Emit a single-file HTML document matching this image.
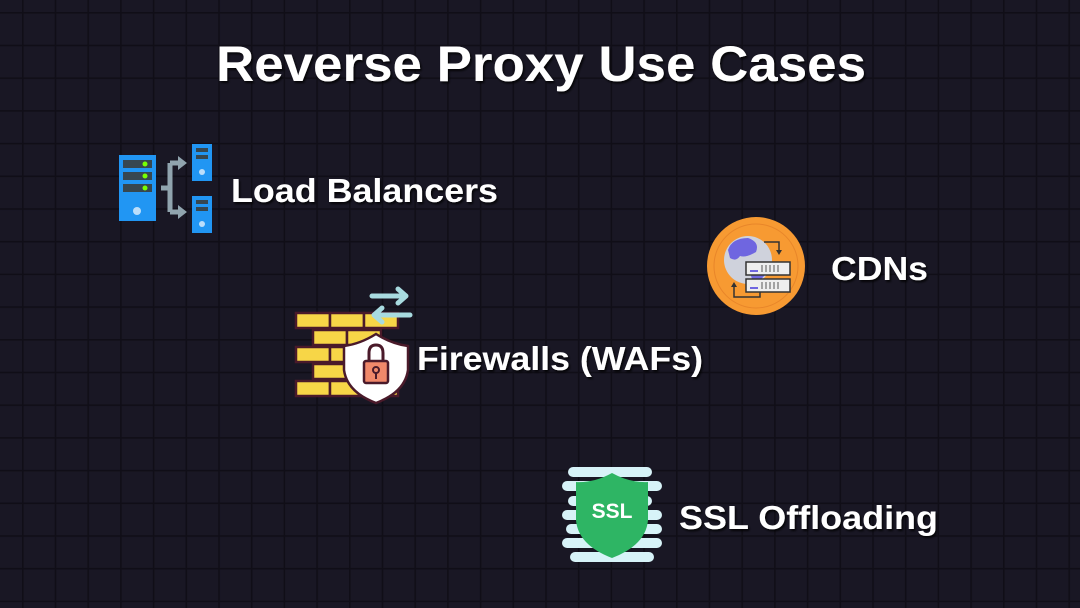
<!DOCTYPE html>
<html><head><meta charset="utf-8"><style>
html,body{margin:0;padding:0;background:#181622;}
svg{display:block}
text{font-family:"Liberation Sans",sans-serif;font-weight:bold;fill:#fff}
</style></head><body>
<svg width="1080" height="608" viewBox="0 0 1080 608" xmlns="http://www.w3.org/2000/svg">
<defs>
<pattern id="g" x="22" y="12" width="32.7" height="32.7" patternUnits="userSpaceOnUse">
<rect width="32.7" height="32.7" fill="#191724"/>
<rect width="1.6" height="32.7" fill="#100e17"/>
<rect width="32.7" height="1.6" fill="#100e17"/>
</pattern>
<filter id="sh"><feDropShadow dx="1.5" dy="2" stdDeviation="1" flood-color="#000" flood-opacity="0.8"/></filter>
</defs>
<rect width="1080" height="608" fill="url(#g)"/>

<g filter="url(#sh)">
<text x="216" y="81" font-size="50" textLength="650" lengthAdjust="spacingAndGlyphs">Reverse Proxy Use Cases</text>
<text x="231" y="202" font-size="33" textLength="267" lengthAdjust="spacingAndGlyphs">Load Balancers</text>
<text x="831" y="280" font-size="33" textLength="97" lengthAdjust="spacingAndGlyphs">CDNs</text>
<text x="417" y="370" font-size="33" textLength="286" lengthAdjust="spacingAndGlyphs">Firewalls (WAFs)</text>
<text x="679" y="529" font-size="33" textLength="259" lengthAdjust="spacingAndGlyphs">SSL Offloading</text>
</g>

<!-- Load balancer icon -->
<g>
<rect x="119" y="155" width="37" height="66" fill="#2196f3"/>
<rect x="123" y="160" width="29" height="8" fill="#37474f"/>
<rect x="123" y="172" width="29" height="8" fill="#37474f"/>
<rect x="123" y="184" width="29" height="8" fill="#37474f"/>
<circle cx="145" cy="164" r="2.5" fill="#76ff03"/>
<circle cx="145" cy="176" r="2.5" fill="#76ff03"/>
<circle cx="145" cy="188" r="2.5" fill="#76ff03"/>
<circle cx="137" cy="211" r="4" fill="#bbdefb"/>
<path d="M161 188 H170 M170 163 V212 M170 163 H180 M170 212 H180" stroke="#90a4ae" stroke-width="5" fill="none"/>
<path d="M178 156 L187 163 L178 170 Z M178 205 L187 212 L178 219 Z" fill="#90a4ae"/>
<rect x="192" y="144" width="20" height="37" fill="#2196f3"/>
<rect x="196" y="148" width="12" height="4" fill="#37474f"/>
<rect x="196" y="155" width="12" height="4" fill="#37474f"/>
<circle cx="202" cy="172" r="3" fill="#bbdefb"/>
<rect x="192" y="196" width="20" height="37" fill="#2196f3"/>
<rect x="196" y="200" width="12" height="4" fill="#37474f"/>
<rect x="196" y="207" width="12" height="4" fill="#37474f"/>
<circle cx="202" cy="224" r="3" fill="#bbdefb"/>
</g>

<!-- CDN icon -->
<g>
<circle cx="756" cy="266" r="49" fill="#f79a32"/>
<circle cx="756" cy="266" r="42" fill="none" stroke="#e8862a" stroke-width="1"/>
<circle cx="748" cy="260" r="24" fill="#cfd2dc"/>
<path d="M728 250 Q732 238 748 238 Q760 242 756 252 Q746 258 740 256 Q736 262 730 258 Z" fill="#6f66e0"/>
<path d="M750 262 Q762 260 768 268 Q764 280 754 283 Q748 272 750 262 Z" fill="#6f66e0"/>
<rect x="746" y="262" width="44" height="13" fill="#eee" stroke="#333" stroke-width="1.5"/>
<rect x="746" y="279" width="44" height="13" fill="#eee" stroke="#333" stroke-width="1.5"/>
<path d="M762 265 v7 M766 265 v7 M770 265 v7 M774 265 v7 M778 265 v7 M762 282 v7 M766 282 v7 M770 282 v7 M774 282 v7 M778 282 v7" stroke="#555" stroke-width="1"/>
<rect x="750" y="270" width="8" height="2" fill="#6f66e0"/>
<rect x="750" y="287" width="8" height="2" fill="#6f66e0"/>
<path d="M764 242 H779 V252 M734 285 V297 H760 V292" stroke="#333" stroke-width="1.5" fill="none"/>
<path d="M776 250 L779 255 L782 250 Z M731 287 L734 282 L737 287 Z" fill="#333"/>
</g>

<!-- Firewall icon -->
<g stroke="#4a1a2a" stroke-width="2.5" fill="#f7d647">
<rect x="296" y="313" width="34" height="15"/>
<rect x="330" y="313" width="34" height="15"/>
<rect x="364" y="313" width="34" height="15"/>
<rect x="313" y="330" width="34" height="15"/>
<rect x="347" y="330" width="34" height="15"/>
<rect x="296" y="347" width="34" height="15"/>
<rect x="330" y="347" width="34" height="15"/>
<rect x="313" y="364" width="34" height="15"/>
<rect x="347" y="364" width="34" height="15"/>
<rect x="296" y="381" width="34" height="15"/>
<rect x="330" y="381" width="34" height="15"/>
<rect x="364" y="381" width="34" height="15"/>
</g>
<path d="M376 334 Q392 344 408 346 V370 Q405 392 376 403 Q347 392 344 370 V346 Q360 344 376 334 Z" fill="#fff" stroke="#4a1a2a" stroke-width="2.5"/>
<path d="M369 361 V353 Q369 345 376 345 Q383 345 383 353 V361" fill="none" stroke="#4a1a2a" stroke-width="3"/>
<rect x="364" y="361" width="24" height="22" rx="2" fill="#f0886a" stroke="#4a1a2a" stroke-width="2.5"/>
<circle cx="376" cy="370" r="3" fill="none" stroke="#4a1a2a" stroke-width="2"/>
<path d="M376 373 V379" stroke="#4a1a2a" stroke-width="2"/>
<path d="M372 296 H402 M406 296 L398 289 M406 296 L398 303 M378 315 H410 M374 315 L382 308 M374 315 L382 322" stroke="#a8dbe0" stroke-width="5" stroke-linecap="round" fill="none"/>

<!-- SSL icon -->
<g fill="#d7f3f8">
<rect x="568" y="467" width="84" height="10" rx="5"/>
<rect x="562" y="481" width="100" height="10" rx="5"/>
<rect x="568" y="496" width="84" height="10" rx="5"/>
<rect x="562" y="510" width="100" height="10" rx="5"/>
<rect x="566" y="524" width="96" height="10" rx="5"/>
<rect x="562" y="538" width="100" height="10" rx="5"/>
<rect x="570" y="552" width="84" height="10" rx="5"/>
</g>
<path d="M612 473 Q630 483 648 482 V520 Q646 545 612 558 Q578 545 576 520 V482 Q594 483 612 473 Z" fill="#2eb564"/>
<text x="612" y="518" font-size="21" text-anchor="middle" style="fill:#fff">SSL</text>
</svg>
</body></html>
